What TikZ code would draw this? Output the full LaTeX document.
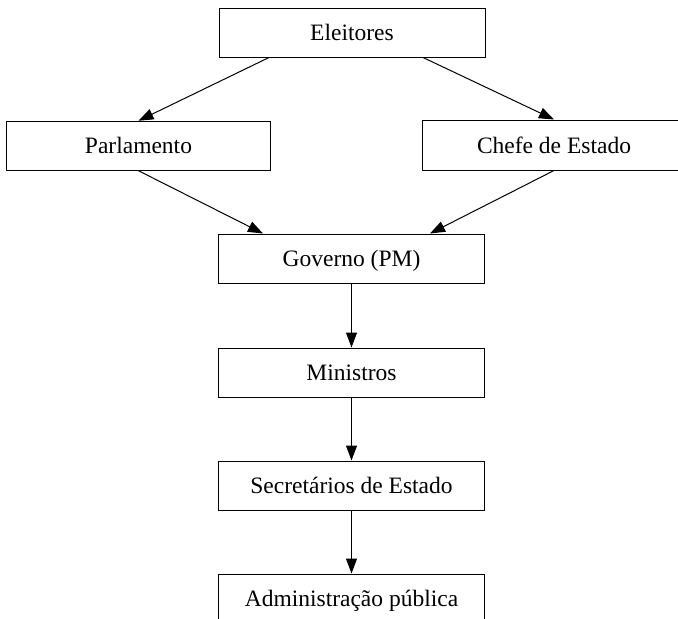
\documentclass[tikz,border=0pt]{standalone}
\usepackage{fontspec}
\setmainfont{Liberation Serif}
\usetikzlibrary{arrows.meta}
\begin{document}
\begin{tikzpicture}[x=1pt,y=-1pt,
  box/.style={draw, line width=1pt, minimum width=266pt, minimum height=49pt, inner sep=0pt,
    text height=16pt, text depth=0pt, font=\fontsize{23.5}{28}\selectfont},
  arr/.style={line width=1pt, -{Triangle[length=15pt,width=11pt]}}]
\clip (0,0) rectangle (678,619);
\fill[white] (0,0) rectangle (678,619);
\node[box] (E) at (352,32.5) {Eleitores};
\node[box, minimum width=264pt] (P) at (138.5,145.75) {Parlamento};
\node[box, minimum width=264pt, minimum height=50pt] (C) at (554,145) {Chefe de Estado};
\node[box] (G) at (351.5,258.5) {Governo (PM)};
\node[box] (M) at (351.5,372.5) {Ministros};
\node[box] (S) at (351.5,485.5) {Secretários de Estado};
\node[box] (A) at (351.5,598.5) {Administração pública};
\draw[arr] ([xshift=-83pt]E.south) -- (P.north);
\draw[arr] ([xshift=71pt]E.south) -- (C.north);
\draw[arr] (P.south) -- ([xshift=-88.5pt]G.north);
\draw[arr] (C.south) -- ([xshift=78.5pt]G.north);
\draw[arr] (G) -- (M);
\draw[arr] (M) -- (S);
\draw[arr] (S) -- (A);
\end{tikzpicture}
\end{document}
